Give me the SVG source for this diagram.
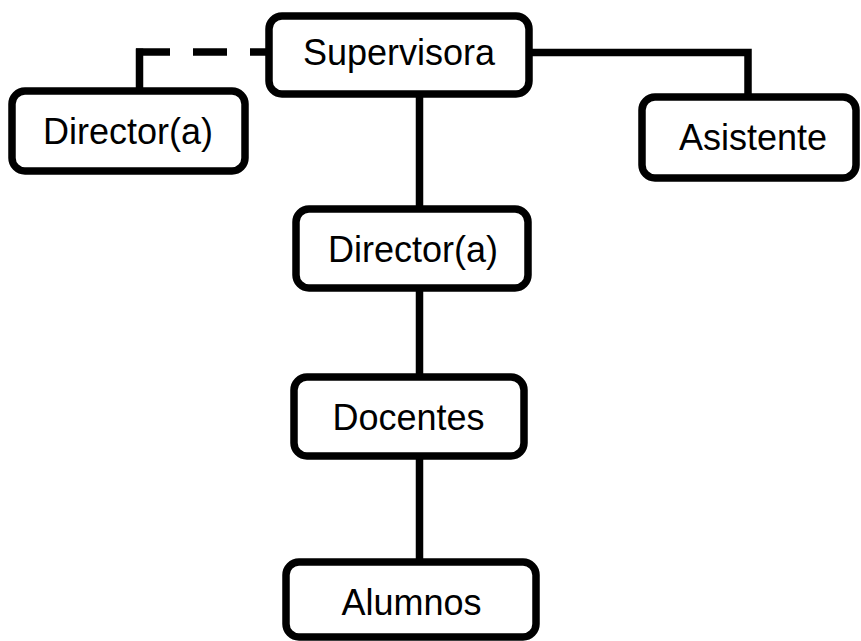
<svg xmlns="http://www.w3.org/2000/svg" width="861" height="641" viewBox="0 0 861 641">
<style>
.box{fill:#fff;stroke:#000;stroke-width:7.5}
.lbl{font-family:"Liberation Sans",Arial,sans-serif;font-size:36px;fill:#000;text-anchor:middle}
.ln{fill:none;stroke:#000;stroke-width:7.5}
.dash{stroke-dasharray:34 23}
</style>
<rect width="861" height="641" fill="#fff"/>
<g id="connectors">
<line class="ln" x1="139.5" y1="91" x2="139.5" y2="48.5"/>
<line class="ln dash" x1="136" y1="52" x2="270" y2="52"/>
<polyline class="ln" points="529,52.5 748,52.5 748,97"/>
<line class="ln" x1="419.5" y1="94" x2="419.5" y2="209"/>
<line class="ln" x1="419.5" y1="288" x2="419.5" y2="377"/>
<line class="ln" x1="419.5" y1="456" x2="419.5" y2="562"/>
</g>
<g id="supervisora">
<rect class="box" x="269" y="16" width="260" height="78" rx="13"/>
<text class="lbl" x="399" y="65">Supervisora</text>
</g>
<g id="director-left">
<rect class="box" x="12" y="91" width="233" height="80" rx="13"/>
<text class="lbl" x="128" y="144">Director(a)</text>
</g>
<g id="asistente">
<rect class="box" x="642" y="97" width="214" height="81" rx="13"/>
<text class="lbl" x="753" y="150">Asistente</text>
</g>
<g id="director">
<rect class="box" x="296" y="209" width="232" height="79" rx="13"/>
<text class="lbl" x="413" y="262">Director(a)</text>
</g>
<g id="docentes">
<rect class="box" x="294" y="377" width="230" height="79" rx="13"/>
<text class="lbl" x="408.5" y="430">Docentes</text>
</g>
<g id="alumnos">
<rect class="box" x="286" y="562" width="250" height="75" rx="13"/>
<text class="lbl" x="411.5" y="615">Alumnos</text>
</g>
</svg>
